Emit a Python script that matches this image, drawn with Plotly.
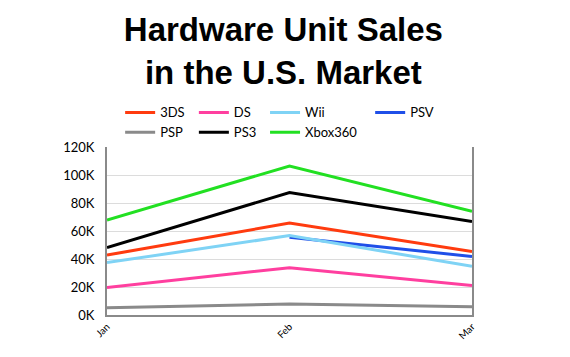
import plotly.graph_objects as go

months = ["Jan", "Feb", "Mar"]
sales_3ds = [42800, 65700, 45400]
sales_ds = [19600, 33800, 21000]
sales_wii = [37400, 56700, 34800]
sales_psv = [None, 55500, 41800]
sales_psp = [5200, 7800, 5900]
sales_ps3 = [48200, 87500, 66700]
sales_x360 = [67900, 106400, 74000]

series = [
    ("3DS", sales_3ds, "#ff3b0f"),
    ("DS", sales_ds, "#ff3f9f"),
    ("Wii", sales_wii, "#7fd3f5"),
    ("PSV", sales_psv, "#1f4fe8"),
    ("PSP", sales_psp, "#8a8a8a"),
    ("PS3", sales_ps3, "#000000"),
    ("Xbox360", sales_x360, "#22e022"),
]

# legend column assignment (4 columns, 2 rows)
legend_column = {"3DS": "legend", "PSP": "legend",
                 "DS": "legend2", "PS3": "legend2",
                 "Wii": "legend3", "Xbox360": "legend3",
                 "PSV": "legend4"}

fig = go.Figure()
draw_order = ["PSP", "DS", "PSV", "Wii", "3DS", "PS3", "Xbox360"]
legend_rank = {name: i for i, (name, _, _) in enumerate(series)}
lookup = {name: (vals, col) for name, vals, col in series}
for name in draw_order:
    vals, col = lookup[name]
    fig.add_trace(go.Scatter(
        x=months, y=vals, name=name, mode="lines",
        line=dict(color=col, width=3),
        legendrank=legend_rank[name] + 1,
        legend=legend_column[name],
    ))

leg_common = dict(
    orientation="v", xanchor="left", y=1.295, yanchor="top",
    font=dict(family="Lato, sans-serif", size=13, color="black"),
    tracegroupgap=0, itemwidth=30, traceorder="normal",
    bgcolor="rgba(0,0,0,0)",
)

fig.update_layout(
    width=562, height=349,
    margin=dict(l=99, r=98, t=139, b=42),
    paper_bgcolor="white", plot_bgcolor="white",
    title=dict(
        text="<b>Hardware Unit Sales<br>in the U.S. Market</b>",
        x=0.49, xanchor="center", y=0.905, yanchor="middle",
        font=dict(family="Liberation Sans, Arial, sans-serif", size=33, color="black"),
    ),
    legend=dict(x=0.036, **leg_common),
    legend2=dict(x=0.238, **leg_common),
    legend3=dict(x=0.433, **leg_common),
    legend4=dict(x=0.721, **leg_common),
    showlegend=True,
    xaxis=dict(
        type="category", range=[0, 2], showgrid=False,
        showline=True, linecolor="#8a8a8a", linewidth=2,
        tickangle=-45, ticks="",
        tickfont=dict(family="Lato, sans-serif", size=10, color="black"),
    ),
    yaxis=dict(
        range=[0, 120000],
        tickvals=[0, 20000, 40000, 60000, 80000, 100000, 120000],
        ticktext=["0K", "20K", "40K", "60K", "80K", "100K", "120K"],
        showgrid=True, gridcolor="#dcdcdc", gridwidth=1,
        showline=True, mirror=True, linecolor="#8a8a8a", linewidth=2,
        zeroline=False, ticks="", ticklabelstandoff=8,
        tickfont=dict(family="Lato, sans-serif", size=13, color="black"),
    ),
)

fig.write_html("out.html")
